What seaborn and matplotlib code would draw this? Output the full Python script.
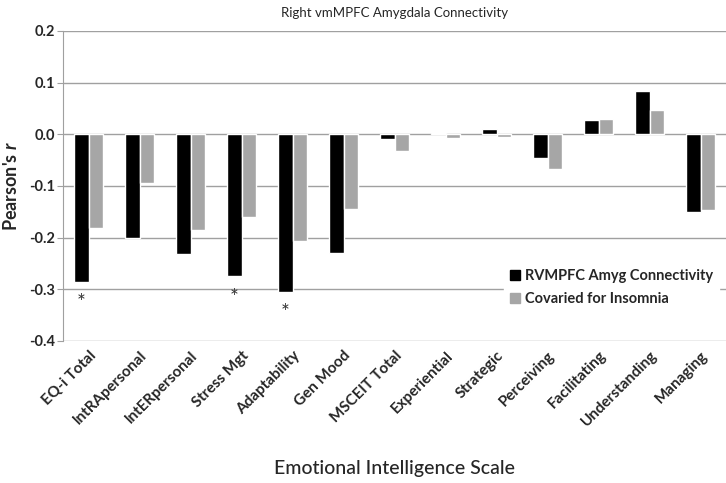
import matplotlib
matplotlib.use("Agg")
import matplotlib.pyplot as plt
import seaborn as sns
import pandas as pd

scales = ["EQ-i Total", "IntRApersonal", "IntERpersonal", "Stress Mgt", "Adaptability",
          "Gen Mood", "MSCEIT Total", "Experiential", "Strategic", "Perceiving",
          "Facilitating", "Understanding", "Managing"]
rvmpfc = [-0.285, -0.200, -0.232, -0.275, -0.305, -0.230, -0.010, 0.002, 0.010,
          -0.045, 0.028, 0.083, -0.150]
insomnia = [-0.182, -0.095, -0.185, -0.160, -0.207, -0.145, -0.033, -0.007, -0.005,
            -0.067, 0.030, 0.047, -0.147]
starred = ["EQ-i Total", "Stress Mgt", "Adaptability"]
series = ["RVMPFC Amyg Connectivity", "Covaried for Insomnia"]

df = pd.DataFrame({
    "scale": scales * 2,
    "r": rvmpfc + insomnia,
    "series": [series[0]] * len(scales) + [series[1]] * len(scales),
})

sns.set_style("white")
plt.rcParams["font.family"] = ["Lato", "DejaVu Sans"]
plt.rcParams["mathtext.fontset"] = "custom"
plt.rcParams["mathtext.it"] = "Lato:italic:bold"

fig = plt.figure(figsize=(7.26, 4.83), dpi=100)
ax = fig.add_axes([0.087, 0.294, 0.913, 0.642])

sns.barplot(data=df, x="scale", y="r", hue="series", order=scales, hue_order=series,
            palette=["#000000", "#a6a6a6"], width=0.58, gap=0, saturation=1,
            legend=False, ax=ax, zorder=3)

ax.set_ylim(-0.4, 0.2)
ax.set_yticks([0.2, 0.1, 0.0, -0.1, -0.2, -0.3, -0.4])
ax.set_yticklabels([f"{v:.1f}" for v in ax.get_yticks()], fontweight="bold", fontsize=10.5)
ax.yaxis.grid(True, color="#a0a0a0", linewidth=1, zorder=0)
ax.set_xlim(-0.5, len(scales) - 0.5)
for s in ["top", "right", "bottom"]:
    ax.spines[s].set_visible(False)
ax.spines["left"].set_color("#a0a0a0")
ax.tick_params(axis="y", left=True, length=4, color="#a0a0a0", pad=2)
ax.tick_params(axis="x", bottom=False, pad=2)
ax.set_xticks(range(len(scales)))
ax.set_xticklabels(scales, rotation=45, ha="right", rotation_mode="anchor",
                   fontweight="bold", fontsize=11)

for name in starred:
    i = scales.index(name)
    ax.text(i - 0.145, rvmpfc[i] - 0.022, "*", ha="center", va="top",
            fontsize=15, color="#333333")

ax.set_title("Right vmMPFC Amygdala Connectivity", fontsize=9.5, pad=10)
ax.set_ylabel("Pearson's $\\mathit{r}$", fontsize=13, fontweight="bold", labelpad=6)
ax.set_xlabel("Emotional Intelligence Scale", fontsize=14, fontweight="medium", labelpad=22)

handles = [plt.Rectangle((0, 0), 1, 1, color=c) for c in ["#000000", "#a6a6a6"]]
leg = ax.legend(handles, series, loc="lower right", bbox_to_anchor=(1.0, 0.07),
                frameon=True, fancybox=False, edgecolor="white", framealpha=1,
                handlelength=0.7, handleheight=0.7, handletextpad=0.3,
                prop={"weight": "bold", "size": 10.5}, borderpad=0.4, labelspacing=0.6)
leg.set_zorder(5)

fig.savefig("out.png", dpi=100)
